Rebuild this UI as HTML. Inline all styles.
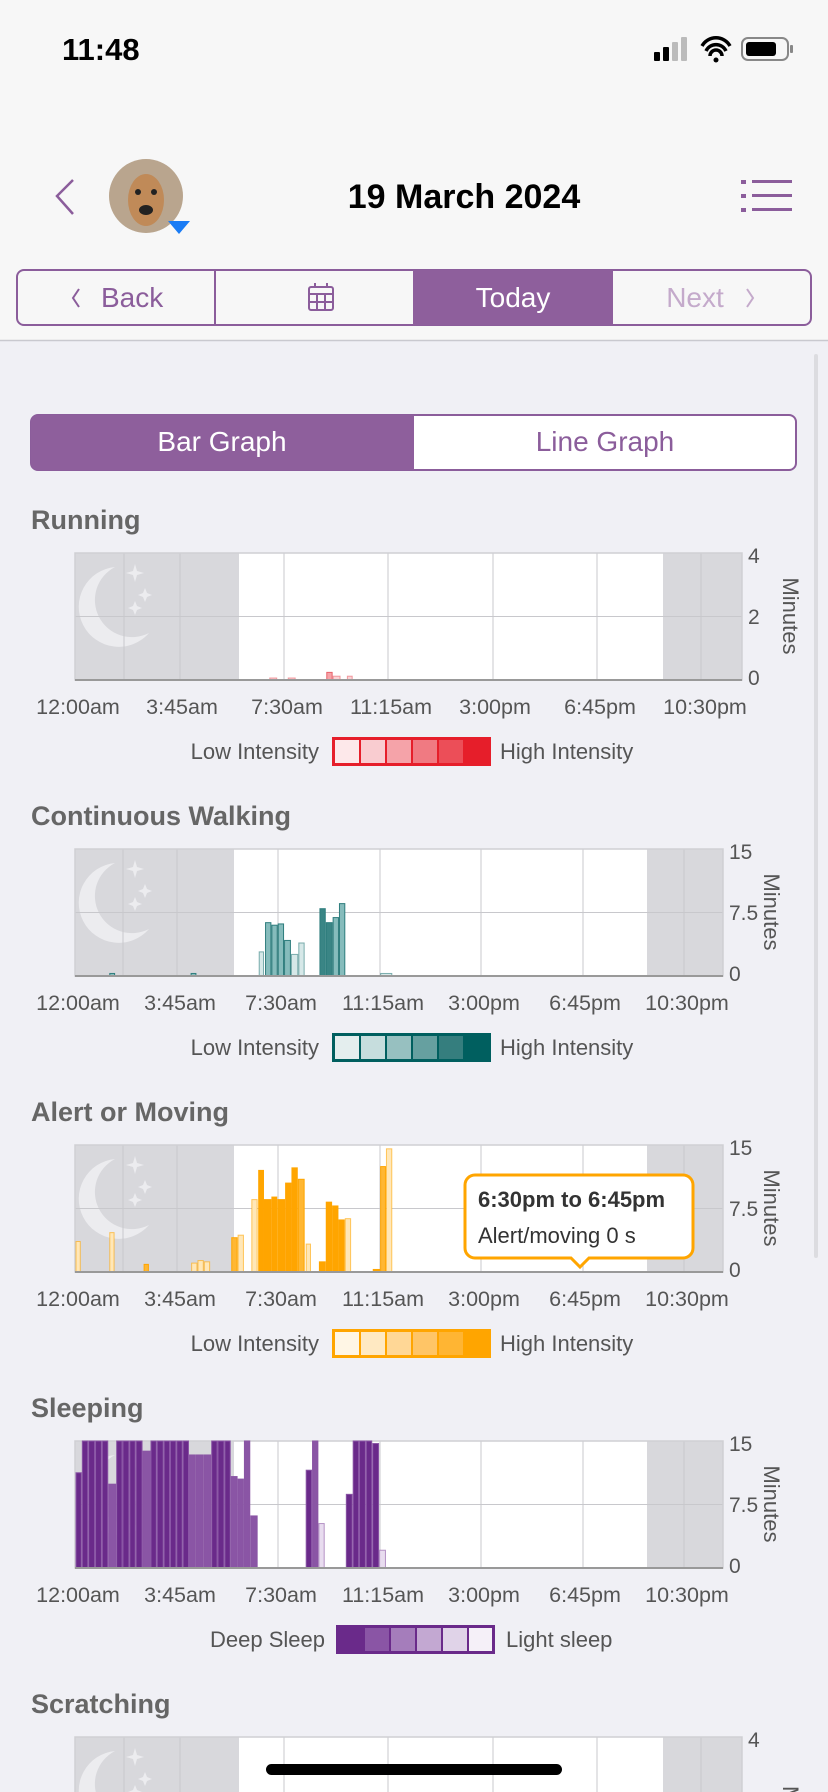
<!DOCTYPE html>
<html><head><meta charset="utf-8"><style>
html,body{margin:0;padding:0;width:828px;height:1792px;overflow:hidden;background:#f0f0f5;font-family:"Liberation Sans",sans-serif}
svg{position:absolute;left:0;top:0}
</style></head><body>
<svg id="s" width="828" height="1792" viewBox="0 0 828 1792" xmlns="http://www.w3.org/2000/svg" font-family="Liberation Sans, sans-serif">
<rect x="0" y="0" width="828" height="340" fill="#f7f7f7"/>
<line x1="0" y1="340.5" x2="828" y2="340.5" stroke="#c9c9cf" stroke-width="1.5"/>
<rect x="814" y="354" width="4" height="904" rx="2" fill="#dcdce0"/>
<text x="62" y="60" font-size="31" font-weight="bold" fill="#000">11:48</text>
<rect x="654" y="52" width="6" height="9" rx="1" fill="#000"/><rect x="663" y="47" width="6" height="14" rx="1" fill="#000"/><rect x="672" y="42" width="6" height="19" rx="1" fill="#bbb"/><rect x="681" y="37" width="6" height="24" rx="1" fill="#bbb"/>
<path d="M702 46 a16 16 0 0 1 28 0 M706 51 a11 11 0 0 1 20 0 M710 56 a6 6 0 0 1 12 0" stroke="#000" stroke-width="3.5" fill="none"/><circle cx="716" cy="60" r="2.5" fill="#000"/>
<rect x="742" y="38" width="46" height="22" rx="6" fill="none" stroke="#888" stroke-width="2"/><rect x="746" y="42" width="30" height="14" rx="3" fill="#000"/><rect x="790" y="45" width="3" height="8" rx="1" fill="#888"/>
<path d="M73 180 L57 196 L73 214" stroke="#8b5d9b" stroke-width="2.5" fill="none"/>
<circle cx="146" cy="196" r="37" fill="#b9a58e"/><ellipse cx="146" cy="200" rx="18" ry="26" fill="#c08a58"/><circle cx="138" cy="192" r="3" fill="#222"/><circle cx="154" cy="192" r="3" fill="#222"/><ellipse cx="146" cy="210" rx="7" ry="5" fill="#222"/>
<path d="M168 221 h22 l-11 13 z" fill="#1a7cf5"/>
<text x="464" y="208" font-size="34" font-weight="bold" text-anchor="middle" fill="#000">19 March 2024</text>
<g fill="#8b5d9b"><rect x="741" y="180" width="5" height="4"/><rect x="741" y="194" width="5" height="4"/><rect x="741" y="208" width="5" height="4"/><rect x="752" y="180" width="40" height="3"/><rect x="752" y="194" width="40" height="3"/><rect x="752" y="208" width="40" height="3"/></g>
<rect x="17" y="270" width="794" height="55" rx="7" fill="#f7f7f7" stroke="#8b5d9b" stroke-width="2"/>
<rect x="413" y="270" width="200" height="55" fill="#8e5f9c"/>
<line x1="215" y1="270" x2="215" y2="325" stroke="#8b5d9b" stroke-width="2"/>
<path d="M79 289 L73 298 L79 307" stroke="#8b5d9b" stroke-width="2" fill="none"/>
<text x="101" y="307" font-size="28" fill="#8b5d9b">Back</text>
<g stroke="#8b5d9b" stroke-width="2" fill="none"><rect x="309" y="287" width="24" height="23" rx="2"/><line x1="309" y1="294" x2="333" y2="294"/><line x1="317" y1="294" x2="317" y2="310"/><line x1="325" y1="294" x2="325" y2="310"/><line x1="309" y1="302" x2="333" y2="302"/><line x1="315" y1="283" x2="315" y2="288"/><line x1="327" y1="283" x2="327" y2="288"/></g>
<text x="513" y="307" font-size="28" fill="#fff" text-anchor="middle">Today</text>
<text x="695" y="307" font-size="28" fill="#c4aacb" text-anchor="middle">Next</text>
<path d="M747 289 L753 298 L747 307" stroke="#c4aacb" stroke-width="2" fill="none"/>
<rect x="31" y="415" width="765" height="55" rx="7" fill="#fff" stroke="#8b5d9b" stroke-width="2"/>
<path d="M38 415 H414 V470 H38 a7 7 0 0 1 -7 -7 V422 a7 7 0 0 1 7 -7z" fill="#8e5f9c"/>
<text x="222" y="451" font-size="28" fill="#fff" text-anchor="middle">Bar Graph</text>
<text x="605" y="451" font-size="28" fill="#8b5d9b" text-anchor="middle">Line Graph</text>
<rect x="266" y="1764" width="296" height="11" rx="5.5" fill="#000"/>
</svg>
<script>
var s=document.getElementById('s');var NS='http://www.w3.org/2000/svg';
function el(t,a,txt){var e=document.createElementNS(NS,t);for(var k in a)e.setAttribute(k,a[k]);if(txt!=null)e.textContent=txt;s.insertBefore(e,s.lastElementChild);return e;}
function moon(L,T){
 el('path',{d:'M'+(L+40)+' '+(T+14)+' a40 40 0 1 0 34 66 a33 33 0 0 1 -34 -66z',fill:'#ececef'});
 [[L+60,T+20,9],[L+70,T+42,7],[L+60,T+55,7]].forEach(function(p){el('path',{d:'M'+p[0]+' '+(p[1]-p[2])+' L'+(p[0]+2)+' '+(p[1]-2)+' L'+(p[0]+p[2])+' '+p[1]+' L'+(p[0]+2)+' '+(p[1]+2)+' L'+p[0]+' '+(p[1]+p[2])+' L'+(p[0]-2)+' '+(p[1]+2)+' L'+(p[0]-p[2])+' '+p[1]+' L'+(p[0]-2)+' '+(p[1]-2)+'z',fill:'#ececef'})});
}
function chart(o){
 var L=75,R=o.R,T=o.T,B=o.T+127,W=R-L;
 el('text',{x:31,y:T-24,'font-size':27,'font-weight':'bold',fill:'#666'},o.title);
 el('rect',{x:L,y:T,width:W,height:127,fill:'#fff'});
 el('rect',{x:L,y:T,width:o.sl-L,height:127,fill:'#d8d8dc'});
 el('rect',{x:o.sr,y:T,width:R-o.sr,height:127,fill:'#d8d8dc'});
 moon(L,T);
 o.v.forEach(function(x){el('line',{x1:x,y1:T,x2:x,y2:B,stroke:'#c8c8cc','stroke-width':1})});
 el('line',{x1:L,y1:T+63.5,x2:R,y2:T+63.5,stroke:'#c8c8cc','stroke-width':1});
 el('rect',{x:L,y:T,width:W,height:127,fill:'none',stroke:'#cfcfd3','stroke-width':1.5});
 o.bars.forEach(function(b){var h=Math.max(b[2]*127,2);el('rect',{x:b[0]+0.5,y:B-h,width:b[1]-b[0]-1,height:h,fill:o.cols[b[3]||0],stroke:o.stroke,'stroke-width':1,'stroke-opacity':b[3]==2?0.6:1})});
 el('line',{x1:L,y1:B,x2:R,y2:B,stroke:'#999','stroke-width':2});
 o.yl.forEach(function(t,i){el('text',{x:R+6,y:T+[10,71,132][i],'font-size':21,fill:'#555'},t)});
 var my=T+63;el('text',{x:R+41,y:my,'font-size':22,fill:'#555','text-anchor':'middle',transform:'rotate(90 '+(R+41)+' '+my+')'},'Minutes');
 o.tx.forEach(function(x,i){el('text',{x:x,y:B+34,'font-size':21.5,fill:'#555','text-anchor':'middle'},['12:00am','3:45am','7:30am','11:15am','3:00pm','6:45pm','10:30pm'][i])});
 var ly=B+57;
 el('text',{x:o.lg[0],y:ly+22,'font-size':22,fill:'#555','text-anchor':'end'},o.lt[0]);
 el('rect',{x:o.lg[1],y:ly,width:159,height:29,fill:o.lb});
 for(var i=0;i<6;i++)el('rect',{x:o.lg[1]+3+i*26,y:ly+3,width:i==5?23:24,height:23,fill:o.lc[i]});
 el('text',{x:o.lg[2],y:ly+22,'font-size':22,fill:'#555'},o.lt[1]);
}
function cv(a){return a.map(function(b){return [b[0]/1.894,b[1]/1.894,b[2],b[3]]});}
var v1=[124,180,284,388,493,597,701],v2=[123,177,278,380,481,583,684];
var t1=[78,182,287,391,495,600,705],t2=[78,180,281,383,484,585,687];
chart({title:'Running',T:553,R:742,sl:239,sr:663,v:v1,tx:t1,yl:['4','2','0'],stroke:'#e8636b',cols:['#f6a3a8','#e23a44','#fbd3d6'],
 bars:cv([[510,525,0.01,2],[545,560,0.01,2],[618,630,0.06,0],[630,645,0.03,2],[657,668,0.03,2]]),
 lg:[319,332,500],lt:['Low Intensity','High Intensity'],lb:'#e61e2a',lc:['#fde8ea','#f9ccd0','#f5a3a9','#f07a82','#ec4e58','#e61e2a']});
chart({title:'Continuous Walking',T:849,R:723,sl:234,sr:647,v:v2,tx:t2,yl:['15','7.5','0'],stroke:'#2e7d7d',cols:['#86bcbc','#3a8585','#d6e8e8'],
 bars:cv([[207,218,0.02,0],[361,372,0.02,0],[490,500,0.19,2],[502,514,0.42,0],[514,526,0.40,0],[526,538,0.41,0],[538,551,0.28,0],[551,565,0.17,2],[565,577,0.26,2],[605,617,0.53,1],[617,630,0.42,1],[630,642,0.46,0],[642,654,0.57,0],[720,743,0.02,2]]),
 lg:[319,332,500],lt:['Low Intensity','High Intensity'],lb:'#005f5f',lc:['#e4eeee','#c6dddd','#97c0c0','#66a0a0','#357e7e','#005f5f']});
chart({title:'Alert or Moving',T:1145,R:723,sl:234,sr:647,v:v2,tx:t2,yl:['15','7.5','0'],stroke:'#ffa500',cols:['#ffb733','#ffa500','#ffe7b8'],
 bars:cv([[143,153,0.24,2],[207,217,0.31,2],[272,282,0.06,0],[362,374,0.07,2],[374,386,0.09,2],[386,398,0.08,2],[438,450,0.27,0],[450,462,0.29,2],[476,488,0.57,2],[489,500,0.80,1],[500,514,0.57,1],[514,525,0.59,1],[525,540,0.57,1],[540,552,0.70,1],[552,564,0.82,1],[564,577,0.73,0],[579,589,0.22,2],[604,617,0.08,1],[617,629,0.55,1],[629,641,0.52,1],[641,653,0.41,1],[653,665,0.42,2],[706,720,0.02,1],[720,731,0.83,0],[731,743,0.97,2]]),
 lg:[319,332,500],lt:['Low Intensity','High Intensity'],lb:'#ffa500',lc:['#fff6e5','#ffe9c2','#ffd796','#ffc566','#ffb533','#ffa500']});
chart({title:'Sleeping',T:1441,R:723,sl:234,sr:647,v:v2,tx:t2,yl:['15','7.5','0'],stroke:'#8a55a5',cols:['#6a2a8a','#8a55a5','#e8dcef'],
 bars:cv([[143,155,0.75,0],[155,167,1,0],[167,180,1,0],[180,193,1,0],[193,205,1,0],[205,220,0.66,1],[220,232,1,0],[232,245,1,0],[245,257,1,0],[257,270,1,0],[270,285,0.92,1],[285,297,1,0],[297,310,1,0],[310,322,1,0],[322,334,1,0],[334,346,1,0],[346,358,1,0],[358,370,0.89,1],[370,385,0.89,1],[385,400,0.89,1],[400,412,1,0],[412,425,1,0],[425,437,1,0],[437,450,0.72,1],[450,462,0.70,1],[462,474,1,1],[474,488,0.41,1],[579,591,0.77,0],[591,603,1,1],[603,615,0.35,2],[655,668,0.58,0],[668,680,1,0],[680,693,1,0],[693,705,1,0],[705,718,0.98,0],[718,731,0.14,2]]),
 lg:[325,336,506],lt:['Deep Sleep','Light sleep'],lb:'#6a2a8a',lc:['#6a2a8a','#8a55a5','#a57dbb','#c3a8d2','#e0d3e8','#f5f0f8']});
(function(){var T=1737,L=75,R=742;
 el('text',{x:31,y:T-24,'font-size':27,'font-weight':'bold',fill:'#666'},'Scratching');
 el('rect',{x:L,y:T,width:R-L,height:60,fill:'#fff'});
 el('rect',{x:L,y:T,width:164,height:60,fill:'#d8d8dc'});
 el('rect',{x:663,y:T,width:79,height:60,fill:'#d8d8dc'});
 moon(L,T);
 v1.forEach(function(x){el('line',{x1:x,y1:T,x2:x,y2:1792,stroke:'#c8c8cc'})});
 el('rect',{x:L,y:T,width:R-L,height:70,fill:'none',stroke:'#cfcfd3','stroke-width':1.5});
 el('text',{x:748,y:T+10,'font-size':21,fill:'#555'},'4');
 el('text',{x:783,y:1786,'font-size':22,fill:'#555',transform:'rotate(90 783 1786)'},'Mi');
})();
el('path',{d:'M475 1175 H683 a10 10 0 0 1 10 10 V1248 a10 10 0 0 1 -10 10 H589 L580 1267 L571 1258 H475 a10 10 0 0 1 -10 -10 V1185 a10 10 0 0 1 10 -10z',fill:'#fff',stroke:'#ffa500','stroke-width':3});
el('text',{x:478,y:1207,'font-size':22,'font-weight':'bold',fill:'#333'},'6:30pm to 6:45pm');
el('text',{x:478,y:1243,'font-size':22,fill:'#333'},'Alert/moving 0 s');
</script>
</body></html>
